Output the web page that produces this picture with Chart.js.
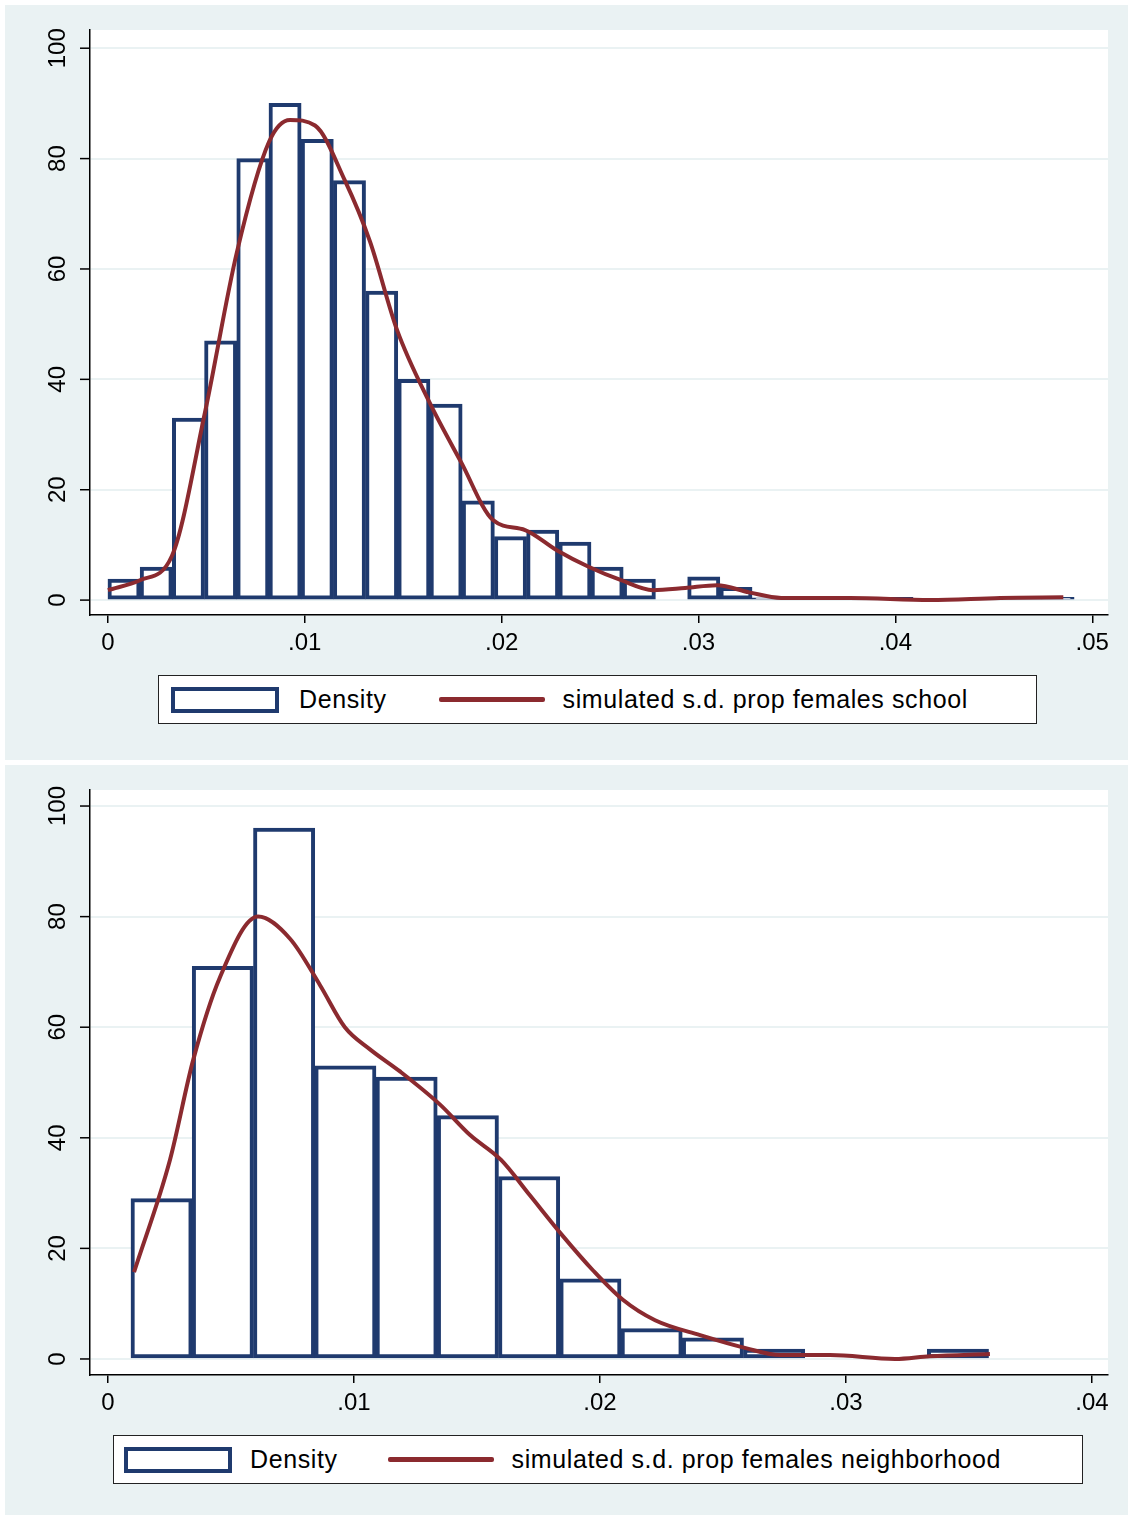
<!DOCTYPE html>
<html><head><meta charset="utf-8">
<script src="https://cdn.jsdelivr.net/npm/chart.js@4"></script>
<style>
body{margin:0;background:#fff;width:1129px;height:1515px;position:relative;font-family:"Liberation Sans",Arial,sans-serif;overflow:hidden}
.panel{position:absolute;left:5px;width:1123px;background:#eaf2f3}
.cv{position:absolute}
.legend{position:absolute;border:1.5px solid #222;background:#fff;display:flex;align-items:center;font-size:25px;letter-spacing:0.6px;color:#000}
.box{display:inline-block;width:108px;height:26px;border:4px solid #1f3a6e;box-sizing:border-box}
.line{display:inline-block;width:106px;height:5px;background:#8b2a2f;border-radius:2px}
</style></head><body>
<div class="panel" style="top:5px;height:755px"></div>
<div class="panel" style="top:765px;height:750px"></div>
<div class="cv" style="left:30px;top:25px;width:1090px;height:635px"><canvas id="c1"></canvas></div>
<div class="cv" style="left:30px;top:785px;width:1090px;height:635px"><canvas id="c2"></canvas></div>
<div class="legend" style="left:158px;top:675px;width:877px;height:47px">
 <span class="box" style="margin-left:12px"></span><span style="margin-left:20px">Density</span>
 <span class="line" style="margin-left:52px"></span><span style="margin-left:18px">simulated s.d. prop females school</span></div>
<div class="legend" style="left:113px;top:1435px;width:968px;height:47px">
 <span class="box" style="margin-left:10px"></span><span style="margin-left:18px">Density</span>
 <span class="line" style="margin-left:50px"></span><span style="margin-left:18px">simulated s.d. prop females neighborhood</span></div>
<script>
// ---- data ----
const schoolBinStart = 0, schoolBinWidth = 0.001636;
const schoolDensity = [3.8,6,33,47,80,90,83.5,76,56,40,35.5,18,11.5,12.7,10.5,6,3.8,0,4.2,2.3,0.4,0.3,0.5,0.3,0.5,0,0,0,0.5,0.5];
const schoolCurveX = [0,0.00163,0.00325,0.00493,0.00655,0.00818,0.00925,0.01052,0.01204,0.01331,0.01468,0.01631,0.01794,0.01956,0.02119,0.02282,0.02444,0.02607,0.02769,0.02932,0.03094,0.03257,0.03420,0.03770,0.04177,0.04533,0.04853];
const schoolCurveY = [1.8,3.6,8,34,63,83,87,86,76,65,49,36,25,14.5,12.7,9,6,3.6,1.8,2.2,2.7,1.4,0.4,0.4,0,0.4,0.5];
const nbhdBinStart = 0.000935, nbhdBinWidth = 0.00249;
const nbhdDensity = [29,71,96,53,51,44,33,14.5,5.5,3.8,1.8,0,0,1.8];
const nbhdCurveX = [0.00106,0.00252,0.00346,0.00455,0.00610,0.00740,0.00862,0.00963,0.01065,0.01187,0.01350,0.01472,0.01598,0.01715,0.01846,0.01972,0.02093,0.02224,0.02407,0.02589,0.02732,0.02935,0.03199,0.03341,0.03585];
const nbhdCurveY = [15.7,36,54,69,80,76,67.6,60,56,52,46,40.5,36,29.6,22.4,16,10.7,7,4.3,2,0.7,0.7,0,0.5,0.9];
const schoolXTicks = [0,0.01,0.02,0.03,0.04,0.05];
const nbhdXTicks = [0,0.01,0.02,0.03,0.04];
const yTicks = [0,20,40,60,80,100];

const rotY = {id:'rotY', afterDraw(ch){
  const s=ch.scales.y, ctx=ch.ctx; ctx.save();
  ctx.fillStyle='#000'; ctx.strokeStyle='#000'; ctx.lineWidth=1.5;
  ctx.font='24px "Liberation Sans", Arial'; ctx.textAlign='center'; ctx.textBaseline='middle';
  yTicks.forEach(v=>{const y=s.getPixelForValue(v);
    ctx.beginPath(); ctx.moveTo(s.right-10,y); ctx.lineTo(s.right,y); ctx.stroke();
    ctx.save(); ctx.translate(s.right-32,y); ctx.rotate(-Math.PI/2); ctx.fillText(String(v),0,0); ctx.restore();});
  ctx.restore();}};
const whiteArea = {id:'wa', beforeDraw(ch){const a=ch.chartArea,c=ch.ctx;c.save();c.fillStyle='#fff';c.fillRect(a.left,a.top,a.right-a.left,a.bottom-a.top);c.restore();}};

function make(id, bs, bw, dens, cx, cy, xt, xmin, xmax, ymin, ymax){
  new Chart(document.getElementById(id), {
    data:{datasets:[
      {type:'line', data:cx.map((x,i)=>({x, y:cy[i]})), borderColor:'#8b2a2f', borderWidth:4, pointRadius:0, cubicInterpolationMode:'monotone'},
      {type:'bar', data:dens.map((v,i)=>({x:bs+bw*(i+0.5), y:v})), backgroundColor:'#fff', borderColor:'#1f3a6e', borderWidth:4, barPercentage:1, categoryPercentage:1, borderSkipped:false}
    ]},
    options:{responsive:true, maintainAspectRatio:false, animation:false,
      layout:{padding:{top:5,right:12}},
      plugins:{legend:{display:false}, tooltip:{enabled:false}},
      scales:{
        x:{type:'linear', offset:false, min:xmin, max:xmax, afterBuildTicks:s=>{s.ticks=xt.map(v=>({value:v}))}, afterFit:s=>{s.height=45},
           grid:{display:true, offset:false, drawOnChartArea:false, tickLength:8, color:'#000', lineWidth:1.5},
           border:{color:'#000', width:1.5},
           ticks:{color:'#000', font:{size:24, family:'"Liberation Sans", Arial'}, maxRotation:0, padding:6, callback:v=> v===0?'0':'.0'+Math.round(v*100)}},
        y:{min:ymin, max:ymax, afterBuildTicks:s=>{s.ticks=yTicks.map(v=>({value:v}))}, afterFit:s=>{s.width=60},
           grid:{color:'#eaf2f3', lineWidth:2, drawTicks:false}, border:{color:'#000', width:1.5},
           ticks:{display:false}}
      }},
    plugins:[whiteArea, rotY]
  });
}
make('c1', schoolBinStart, schoolBinWidth, schoolDensity, schoolCurveX, schoolCurveY, schoolXTicks, -0.00091, 0.0508, -2.7, 103.3);
make('c2', nbhdBinStart, nbhdBinWidth, nbhdDensity, nbhdCurveX, nbhdCurveY, nbhdXTicks, -0.00073, 0.04065, -2.9, 102.9);
</script></body></html>
